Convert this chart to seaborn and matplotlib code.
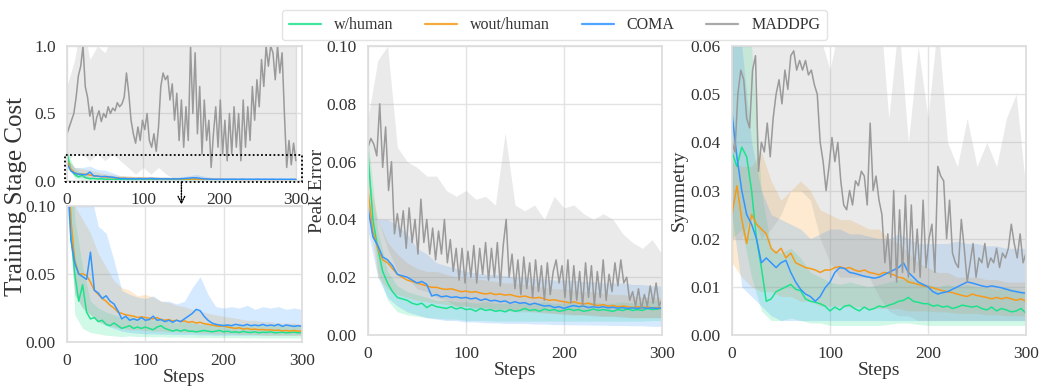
import numpy as np
import matplotlib
matplotlib.use('Agg')
import matplotlib.pyplot as plt
import seaborn as sns
from matplotlib.patches import Rectangle
from matplotlib.lines import Line2D

# ---------------- data ----------------
names = ['w/human', 'wout/human', 'COMA', 'MADDPG']
colors = ['#1de28c', '#f59a1b', '#3396ff', '#9a9a9a']

steps5 = np.arange(0, 301, 5)    # w/human, wout/human, COMA lines
steps3 = np.arange(0, 301, 3)    # MADDPG lines (more jagged)
steps10 = np.arange(0, 301, 10)  # shaded bands

# --- Training Stage Cost ---
cost_green = [0.21, 0.08, 0.05, 0.03, 0.042, 0.022, 0.017, 0.018, 0.015, 0.016,
              0.013, 0.012, 0.014, 0.012, 0.010, 0.011, 0.012, 0.010, 0.011, 0.010,
              0.011, 0.010, 0.009, 0.011, 0.012, 0.010, 0.009, 0.008, 0.009, 0.008,
              0.009, 0.008, 0.008, 0.0075, 0.008, 0.0085, 0.008, 0.0075, 0.008, 0.0085,
              0.0075, 0.008, 0.0072, 0.0075, 0.007, 0.0078, 0.0072, 0.007, 0.0075, 0.0068,
              0.0072, 0.007, 0.0075, 0.0068, 0.007, 0.0072, 0.0068, 0.007, 0.0072, 0.0068,
              0.007]
cost_orange = [0.15, 0.09, 0.06, 0.05, 0.05, 0.049, 0.044, 0.038, 0.035, 0.032,
               0.030, 0.027, 0.025, 0.022, 0.021, 0.020, 0.0195, 0.019, 0.018, 0.0185,
               0.018, 0.0175, 0.017, 0.018, 0.0165, 0.016, 0.0165, 0.0155, 0.016, 0.015,
               0.0155, 0.0145, 0.015, 0.014, 0.0145, 0.0135, 0.013, 0.0125, 0.012, 0.0115,
               0.012, 0.011, 0.0105, 0.010, 0.0105, 0.0095, 0.010, 0.0092, 0.0095, 0.009,
               0.0092, 0.0088, 0.009, 0.0085, 0.0088, 0.0082, 0.0085, 0.008, 0.0085, 0.008,
               0.0082]
cost_blue = [0.13, 0.075, 0.058, 0.05, 0.048, 0.046, 0.066, 0.038, 0.036, 0.032,
             0.034, 0.030, 0.028, 0.023, 0.017, 0.019, 0.016, 0.017, 0.016, 0.018,
             0.016, 0.0165, 0.019, 0.016, 0.0165, 0.015, 0.016, 0.0145, 0.016, 0.015,
             0.017, 0.019, 0.021, 0.024, 0.023, 0.019, 0.016, 0.014, 0.013, 0.0125,
             0.012, 0.0125, 0.012, 0.013, 0.0125, 0.012, 0.013, 0.012, 0.0125, 0.012,
             0.013, 0.012, 0.0125, 0.012, 0.013, 0.0115, 0.0125, 0.012, 0.0115, 0.012,
             0.0115]
cost_maddpg = [0.35, 0.40, 0.45, 0.50, 0.62, 0.78, 0.85, 1.00, 0.70, 0.62,
               0.48, 0.55, 0.38, 0.47, 0.52, 0.44, 0.50, 0.47, 0.55, 0.50,
               0.54, 0.52, 0.58, 0.55, 0.57, 0.62, 0.80, 0.65, 0.45, 0.35,
               0.28, 0.40, 0.30, 0.45, 0.38, 0.50, 0.30, 0.25, 0.35, 0.22,
               0.40, 0.70, 0.80, 0.75, 0.78, 0.60, 0.72, 0.45, 0.65, 0.30,
               0.60, 0.25, 0.55, 0.30, 1.00, 0.50, 0.95, 0.35, 0.70, 0.20,
               0.60, 0.30, 0.45, 0.10, 0.35, 0.55, 0.25, 0.60, 0.20, 0.45,
               0.15, 0.50, 0.20, 0.55, 0.25, 0.50, 0.15, 0.60, 0.25, 0.55,
               0.30, 0.70, 0.45, 0.75, 0.55, 0.90, 0.70, 1.00, 0.85, 1.00,
               0.95, 0.75, 1.00, 0.80, 0.95, 0.50, 0.10, 0.30, 0.12, 0.28,
               0.15]

cost_green_lo = [0.15, 0.02, 0.01, 0.007, 0.006, 0.005, 0.0045, 0.004, 0.0045, 0.004,
                 0.004, 0.0038, 0.004, 0.0035, 0.0038, 0.0035, 0.0035, 0.0033, 0.0035, 0.0033,
                 0.0033, 0.0032, 0.0032, 0.003, 0.0032, 0.003, 0.003, 0.003, 0.003, 0.003,
                 0.003]
cost_green_hi = [0.22, 0.09, 0.055, 0.03, 0.025, 0.022, 0.02, 0.018, 0.019, 0.017,
                 0.018, 0.016, 0.018, 0.015, 0.014, 0.015, 0.014, 0.013, 0.014, 0.013,
                 0.014, 0.013, 0.012, 0.013, 0.012, 0.013, 0.012, 0.013, 0.012, 0.013,
                 0.012]
cost_orange_lo = [0.11, 0.035, 0.025, 0.02, 0.015, 0.013, 0.011, 0.01, 0.009, 0.009,
                  0.0085, 0.008, 0.008, 0.0075, 0.0075, 0.007, 0.007, 0.0065, 0.0065, 0.006,
                  0.006, 0.006, 0.0055, 0.0055, 0.0055, 0.005, 0.005, 0.005, 0.005, 0.005,
                  0.005]
cost_orange_hi = [0.18, 0.10, 0.09, 0.08, 0.065, 0.055, 0.045, 0.04, 0.038, 0.034,
                  0.035, 0.033, 0.03, 0.029, 0.027, 0.026, 0.024, 0.023, 0.021, 0.02,
                  0.019, 0.018, 0.017, 0.016, 0.016, 0.015, 0.015, 0.014, 0.014, 0.014,
                  0.013]
cost_blue_lo = [0.10, 0.035, 0.025, 0.02, 0.015, 0.012, 0.01, 0.008, 0.007, 0.0065,
                0.006, 0.006, 0.0058, 0.0058, 0.0055, 0.0055, 0.0055, 0.0052, 0.0052, 0.005,
                0.005, 0.005, 0.005, 0.005, 0.005, 0.005, 0.005, 0.005, 0.005, 0.005,
                0.005]
cost_blue_hi = [0.16, 0.10, 0.10, 0.11, 0.085, 0.08, 0.06, 0.038, 0.035, 0.033,
                0.032, 0.034, 0.03, 0.03, 0.028, 0.03, 0.04, 0.048, 0.035, 0.026,
                0.025, 0.026, 0.025, 0.027, 0.024, 0.026, 0.025, 0.026, 0.024, 0.025,
                0.024]
cost_maddpg_lo = [0.15, 0.20, 0.20, 0.15, 0.20, 0.15, 0.20, 0.15, 0.10, 0.05,
                  0.10, 0.05, 0.10, 0.05, 0.02, 0.0, 0.0, 0.0, 0.0, 0.0,
                  0.0, 0.0, 0.0, 0.0, 0.0, 0.0, 0.0, 0.0, 0.0, 0.0,
                  0.0]
cost_maddpg_hi = [0.70, 0.90, 1.20, 0.90, 1.00, 0.95, 1.10, 1.20, 1.20, 1.20,
                  1.20, 1.20, 1.20, 1.20, 1.20, 1.20, 1.20, 1.20, 1.20, 1.20,
                  1.20, 1.20, 1.20, 1.20, 1.20, 1.20, 1.20, 1.20, 1.20, 1.20,
                  1.20]

# --- Peak Error ---
peak_green = [0.063, 0.040, 0.030, 0.022, 0.018, 0.015, 0.013, 0.0125, 0.012, 0.011,
              0.0105, 0.011, 0.0095, 0.0105, 0.0098, 0.0095, 0.0092, 0.0098, 0.009, 0.0095,
              0.0088, 0.009, 0.0082, 0.0092, 0.0085, 0.0088, 0.0082, 0.0085, 0.008, 0.0088,
              0.0082, 0.0085, 0.0092, 0.0085, 0.0088, 0.0082, 0.009, 0.0085, 0.0088, 0.0082,
              0.0085, 0.009, 0.0085, 0.0088, 0.0082, 0.0085, 0.009, 0.0085, 0.0088, 0.0085,
              0.0082, 0.0088, 0.0085, 0.009, 0.0085, 0.0088, 0.0085, 0.0092, 0.0088, 0.009,
              0.0092]
peak_orange = [0.050, 0.036, 0.030, 0.026, 0.025, 0.023, 0.021, 0.020, 0.019, 0.0185,
               0.018, 0.0175, 0.017, 0.0165, 0.0165, 0.016, 0.0158, 0.016, 0.0155, 0.015,
               0.0152, 0.0148, 0.015, 0.0145, 0.0142, 0.0145, 0.014, 0.0142, 0.0138, 0.014,
               0.0135, 0.0132, 0.0135, 0.013, 0.0128, 0.013, 0.0125, 0.012, 0.0122, 0.0118,
               0.0115, 0.0112, 0.0115, 0.011, 0.0108, 0.011, 0.0105, 0.0102, 0.0105, 0.010,
               0.0102, 0.0098, 0.010, 0.0098, 0.0095, 0.0098, 0.0095, 0.0097, 0.0094, 0.0095,
               0.0092]
peak_blue = [0.044, 0.034, 0.031, 0.027, 0.026, 0.024, 0.021, 0.0205, 0.020, 0.019,
             0.018, 0.0185, 0.0175, 0.0135, 0.014, 0.0132, 0.0135, 0.013, 0.0132, 0.0128,
             0.013, 0.0125, 0.0128, 0.012, 0.0125, 0.0118, 0.012, 0.0115, 0.0118, 0.011,
             0.0115, 0.011, 0.0112, 0.0105, 0.011, 0.0105, 0.010, 0.0102, 0.0095, 0.0098,
             0.0092, 0.0098, 0.0102, 0.0098, 0.010, 0.0095, 0.0098, 0.0095, 0.0098, 0.0094,
             0.0096, 0.0093, 0.0095, 0.0092, 0.0094, 0.0092, 0.0095, 0.0092, 0.0094, 0.0092,
             0.0094]
peak_maddpg = [0.065, 0.068, 0.066, 0.062, 0.080, 0.058, 0.072, 0.050, 0.060, 0.035,
               0.042, 0.034, 0.043, 0.030, 0.044, 0.032, 0.040, 0.028, 0.047, 0.032,
               0.040, 0.028, 0.037, 0.026, 0.036, 0.028, 0.040, 0.025, 0.033, 0.022,
               0.030, 0.019, 0.030, 0.018, 0.029, 0.020, 0.031, 0.018, 0.030, 0.021,
               0.032, 0.019, 0.030, 0.020, 0.032, 0.017, 0.031, 0.040, 0.020, 0.028,
               0.016, 0.026, 0.014, 0.027, 0.016, 0.025, 0.013, 0.026, 0.015, 0.024,
               0.012, 0.025, 0.014, 0.022, 0.026, 0.018, 0.024, 0.013, 0.026, 0.011,
               0.024, 0.012, 0.022, 0.010, 0.025, 0.013, 0.024, 0.010, 0.022, 0.013,
               0.026, 0.012, 0.021, 0.015, 0.025, 0.017, 0.026, 0.018, 0.020, 0.012,
               0.015, 0.010, 0.016, 0.009, 0.014, 0.010, 0.017, 0.011, 0.018, 0.010,
               0.012]

peak_green_lo = [0.055, 0.022, 0.012, 0.008, 0.007, 0.0065, 0.006, 0.0058, 0.0055, 0.0055,
                 0.005, 0.005, 0.005, 0.0048, 0.0048, 0.0048, 0.0048, 0.0048, 0.0048, 0.0048,
                 0.0048, 0.0048, 0.0048, 0.0048, 0.0048, 0.0048, 0.0048, 0.0048, 0.0048, 0.005,
                 0.005]
peak_green_hi = [0.068, 0.036, 0.022, 0.017, 0.015, 0.014, 0.013, 0.012, 0.012, 0.0115,
                 0.0115, 0.011, 0.0115, 0.011, 0.011, 0.011, 0.0115, 0.011, 0.0115, 0.011,
                 0.011, 0.0115, 0.011, 0.0115, 0.011, 0.011, 0.0115, 0.011, 0.0115, 0.012,
                 0.012]
peak_orange_lo = [0.044, 0.020, 0.016, 0.014, 0.013, 0.012, 0.0115, 0.011, 0.0105, 0.010,
                  0.010, 0.0095, 0.0095, 0.009, 0.009, 0.0085, 0.0085, 0.008, 0.008, 0.0075,
                  0.0075, 0.007, 0.007, 0.007, 0.0065, 0.0065, 0.0065, 0.006, 0.006, 0.006,
                  0.006]
peak_orange_hi = [0.056, 0.040, 0.032, 0.028, 0.025, 0.023, 0.022, 0.022, 0.021, 0.020,
                  0.020, 0.0195, 0.019, 0.0185, 0.018, 0.018, 0.0175, 0.017, 0.0165, 0.016,
                  0.016, 0.0155, 0.015, 0.015, 0.0145, 0.014, 0.014, 0.0135, 0.013, 0.013,
                  0.013]
peak_blue_lo = [0.036, 0.020, 0.013, 0.010, 0.008, 0.007, 0.006, 0.0055, 0.005, 0.005,
                0.0045, 0.0045, 0.0042, 0.0042, 0.004, 0.004, 0.004, 0.0038, 0.0038, 0.0036,
                0.0036, 0.0035, 0.0035, 0.0034, 0.0034, 0.0033, 0.0033, 0.0032, 0.0032, 0.003,
                0.003]
peak_blue_hi = [0.050, 0.040, 0.040, 0.038, 0.035, 0.030, 0.028, 0.025, 0.024, 0.023,
                0.022, 0.0215, 0.021, 0.021, 0.0205, 0.020, 0.020, 0.0195, 0.0195, 0.019,
                0.019, 0.019, 0.0185, 0.0185, 0.018, 0.018, 0.018, 0.0175, 0.0175, 0.017,
                0.017]
peak_maddpg_lo = [0.050, 0.040, 0.030, 0.022, 0.020, 0.016, 0.015, 0.013, 0.012, 0.010,
                  0.010, 0.009, 0.009, 0.0085, 0.0085, 0.008, 0.008, 0.008, 0.0075, 0.0075,
                  0.007, 0.007, 0.007, 0.0065, 0.0065, 0.0065, 0.006, 0.006, 0.006, 0.006,
                  0.006]
peak_maddpg_hi = [0.075, 0.095, 0.100, 0.065, 0.060, 0.058, 0.055, 0.055, 0.050, 0.048,
                  0.050, 0.047, 0.048, 0.045, 0.070, 0.045, 0.043, 0.045, 0.040, 0.048,
                  0.044, 0.045, 0.042, 0.040, 0.042, 0.040, 0.035, 0.032, 0.030, 0.033,
                  0.028]

# --- Symmetry ---
sym_green = [0.038, 0.035, 0.039, 0.037, 0.030, 0.020, 0.014, 0.007, 0.0075, 0.009,
             0.0095, 0.010, 0.0105, 0.0095, 0.0092, 0.0075, 0.007, 0.0068, 0.0065, 0.006,
             0.005, 0.0058, 0.0052, 0.006, 0.0062, 0.0055, 0.005, 0.0058, 0.0052, 0.0055,
             0.006, 0.0058, 0.0062, 0.0065, 0.007, 0.0072, 0.0078, 0.007, 0.0068, 0.0065,
             0.0065, 0.006, 0.0062, 0.0058, 0.006, 0.0055, 0.0058, 0.0062, 0.006, 0.0058,
             0.006, 0.0055, 0.0052, 0.0058, 0.005, 0.0055, 0.0052, 0.0048, 0.005, 0.0055,
             0.0045]
sym_orange = [0.025, 0.031, 0.024, 0.019, 0.025, 0.023, 0.022, 0.021, 0.018, 0.017,
              0.018, 0.016, 0.017, 0.015, 0.0145, 0.014, 0.0138, 0.0135, 0.013, 0.0135,
              0.0135, 0.014, 0.0142, 0.0138, 0.014, 0.0135, 0.0132, 0.0135, 0.013, 0.0128,
              0.0125, 0.013, 0.0128, 0.0125, 0.012, 0.0118, 0.011, 0.0108, 0.0105, 0.0102,
              0.010, 0.0098, 0.0095, 0.0092, 0.009, 0.0088, 0.0085, 0.0082, 0.008, 0.0085,
              0.0082, 0.008, 0.0078, 0.0075, 0.0078, 0.0075, 0.0078, 0.0075, 0.0072, 0.0075,
              0.007]
sym_blue = [0.046, 0.037, 0.030, 0.025, 0.023, 0.020, 0.015, 0.016, 0.015, 0.014,
            0.015, 0.0155, 0.013, 0.011, 0.0095, 0.0085, 0.008, 0.007, 0.008, 0.0098,
            0.011, 0.013, 0.014, 0.0138, 0.013, 0.0128, 0.0125, 0.0122, 0.012, 0.0118,
            0.012, 0.0125, 0.013, 0.0135, 0.014, 0.015, 0.013, 0.012, 0.011, 0.0105,
            0.010, 0.009, 0.0085, 0.0088, 0.009, 0.0095, 0.010, 0.0105, 0.011, 0.0108,
            0.0105, 0.0102, 0.010, 0.0102, 0.010, 0.0098, 0.0095, 0.0092, 0.009, 0.0088,
            0.0087]
sym_maddpg = [0.040, 0.038, 0.050, 0.055, 0.053, 0.045, 0.043, 0.055, 0.058, 0.034,
              0.040, 0.038, 0.044, 0.037, 0.045, 0.050, 0.053, 0.048, 0.055, 0.051,
              0.058, 0.059, 0.055, 0.057, 0.055, 0.057, 0.054, 0.055, 0.052, 0.050,
              0.040, 0.036, 0.030, 0.035, 0.041, 0.036, 0.040, 0.032, 0.027, 0.026,
              0.030, 0.027, 0.032, 0.031, 0.034, 0.033, 0.027, 0.044, 0.030, 0.033,
              0.028, 0.025, 0.015, 0.021, 0.012, 0.030, 0.011, 0.026, 0.013, 0.029,
              0.012, 0.027, 0.013, 0.022, 0.012, 0.028, 0.014, 0.020, 0.023, 0.013,
              0.035, 0.033, 0.032, 0.020, 0.028, 0.017, 0.015, 0.014, 0.024, 0.018,
              0.011, 0.015, 0.019, 0.012, 0.016, 0.015, 0.019, 0.014, 0.016, 0.015,
              0.018, 0.014, 0.017, 0.016, 0.018, 0.023, 0.019, 0.016, 0.021, 0.015,
              0.017]

sym_green_lo = [0.020, 0.022, 0.012, 0.005, 0.003, 0.003, 0.0035, 0.003, 0.0025, 0.0025,
                0.002, 0.002, 0.002, 0.002, 0.002, 0.002, 0.0022, 0.0025, 0.0025, 0.0022,
                0.002, 0.002, 0.002, 0.002, 0.002, 0.002, 0.002, 0.002, 0.002, 0.002,
                0.002]
sym_green_hi = [0.065, 0.065, 0.060, 0.030, 0.018, 0.017, 0.018, 0.016, 0.013, 0.012,
                0.011, 0.0105, 0.011, 0.0105, 0.010, 0.0105, 0.011, 0.0115, 0.012, 0.011,
                0.0105, 0.010, 0.0105, 0.010, 0.0105, 0.010, 0.0098, 0.0095, 0.0098, 0.0095,
                0.009]
sym_orange_lo = [0.015, 0.012, 0.010, 0.009, 0.009, 0.008, 0.008, 0.007, 0.007, 0.006,
                 0.006, 0.006, 0.0058, 0.0058, 0.0055, 0.0055, 0.0055, 0.0055, 0.005, 0.005,
                 0.005, 0.0048, 0.0048, 0.0045, 0.0045, 0.0045, 0.0042, 0.0042, 0.004, 0.004,
                 0.004]
sym_orange_hi = [0.036, 0.035, 0.035, 0.038, 0.032, 0.028, 0.030, 0.032, 0.030, 0.026,
                 0.025, 0.024, 0.024, 0.023, 0.022, 0.022, 0.020, 0.019, 0.017, 0.015,
                 0.014, 0.013, 0.013, 0.012, 0.012, 0.012, 0.0115, 0.0115, 0.011, 0.011,
                 0.011]
sym_blue_lo = [0.025, 0.010, 0.008, 0.006, 0.004, 0.003, 0.003, 0.003, 0.003, 0.003,
               0.003, 0.003, 0.003, 0.003, 0.003, 0.003, 0.003, 0.003, 0.003, 0.003,
               0.003, 0.003, 0.003, 0.003, 0.003, 0.003, 0.003, 0.003, 0.003, 0.003,
               0.003]
sym_blue_hi = [0.065, 0.060, 0.040, 0.030, 0.025, 0.024, 0.023, 0.022, 0.020, 0.021,
               0.022, 0.022, 0.021, 0.021, 0.0205, 0.020, 0.020, 0.021, 0.020, 0.019,
               0.019, 0.019, 0.019, 0.0195, 0.019, 0.019, 0.0185, 0.0185, 0.018, 0.018,
               0.018]
sym_maddpg_lo = [0.020, 0.020, 0.025, 0.020, 0.022, 0.025, 0.030, 0.030, 0.028, 0.020,
                 0.015, 0.012, 0.012, 0.012, 0.012, 0.008, 0.005, 0.004, 0.004, 0.003,
                 0.003, 0.003, 0.003, 0.003, 0.003, 0.003, 0.003, 0.003, 0.003, 0.003,
                 0.003]
sym_maddpg_hi = [0.070, 0.070, 0.070, 0.070, 0.070, 0.070, 0.070, 0.070, 0.070, 0.062,
                 0.055, 0.065, 0.070, 0.070, 0.070, 0.070, 0.045, 0.065, 0.040, 0.060,
                 0.045, 0.065, 0.040, 0.035, 0.045, 0.035, 0.040, 0.035, 0.045, 0.050,
                 0.030]

# ---------------- style ----------------
sns.set_theme(style='whitegrid')
plt.rcParams['font.family'] = ['Liberation Serif', 'DejaVu Serif']
plt.rcParams['axes.edgecolor'] = '#dddddd'
plt.rcParams['grid.color'] = '#e3e3e3'
plt.rcParams['text.color'] = '#333333'
plt.rcParams['xtick.color'] = '#333333'
plt.rcParams['ytick.color'] = '#333333'
plt.rcParams['axes.labelcolor'] = '#333333'

TICK = 12.5
LABEL = 14


def draw(ax, lines, bands, skip_maddpg=False):
    n = 3 if skip_maddpg else 4
    for c, (lo, hi) in zip(colors[:n], bands[:n]):
        ax.fill_between(steps10, lo, hi, color=c, alpha=0.2, lw=0)
    for name, c, y in zip(names[:n], colors[:n], lines[:n]):
        x = steps3 if name == 'MADDPG' else steps5
        sns.lineplot(x=x, y=y, color=c, lw=1.1, ax=ax, legend=False)
    ax.tick_params(labelsize=TICK, pad=2)
    ax.set_xticks([0, 100, 200, 300])


fig = plt.figure(figsize=(10.43, 3.9), dpi=100)

cost_lines = [cost_green, cost_orange, cost_blue, cost_maddpg]
cost_bands = [(cost_green_lo, cost_green_hi), (cost_orange_lo, cost_orange_hi),
              (cost_blue_lo, cost_blue_hi), (cost_maddpg_lo, cost_maddpg_hi)]

# left top: full range view
ax_top = fig.add_axes([0.0642, 0.536, 0.2253, 0.346])
draw(ax_top, cost_lines, cost_bands)
ax_top.set_xlim(0, 308)
ax_top.set_ylim(0, 1.0)
ax_top.set_yticks([0.0, 0.5, 1.0])
ax_top.set_yticklabels(['0.0', '0.5', '1.0'])
ax_top.set_xlabel('')
ax_top.add_patch(Rectangle((-2, -0.005), 310, 0.195, fill=False, ec='black',
                           ls=(0, (1, 1.3)), lw=1.3, clip_on=False, zorder=5))
ax_top.annotate('', xy=(150, -0.175), xytext=(150, -0.008),
                arrowprops=dict(arrowstyle='->', ls=(0, (1, 1)), color='black',
                                lw=1.0, shrinkA=0, shrinkB=0),
                annotation_clip=False)

# left bottom: zoomed view (MADDPG is off this scale)
ax_bot = fig.add_axes([0.0642, 0.123, 0.2253, 0.349])
draw(ax_bot, cost_lines, cost_bands, skip_maddpg=True)
ax_bot.set_xlim(0, 300)
ax_bot.set_ylim(0, 0.1)
ax_bot.set_yticks([0.0, 0.05, 0.10])
ax_bot.set_yticklabels(['0.00', '0.05', '0.10'])
ax_bot.set_xlabel('Steps', fontsize=LABEL, labelpad=0)

# middle: peak error
ax_mid = fig.add_axes([0.3528, 0.141, 0.2819, 0.741])
draw(ax_mid, [peak_green, peak_orange, peak_blue, peak_maddpg],
     [(peak_green_lo, peak_green_hi), (peak_orange_lo, peak_orange_hi),
      (peak_blue_lo, peak_blue_hi), (peak_maddpg_lo, peak_maddpg_hi)])
ax_mid.set_xlim(0, 300)
ax_mid.set_ylim(0, 0.1)
ax_mid.set_yticks([0.0, 0.02, 0.04, 0.06, 0.08, 0.10])
ax_mid.set_yticklabels(['0.00', '0.02', '0.04', '0.06', '0.08', '0.10'])
ax_mid.set_xlabel('Steps', fontsize=LABEL, labelpad=0)

# right: symmetry
ax_rt = fig.add_axes([0.7018, 0.141, 0.2819, 0.741])
draw(ax_rt, [sym_green, sym_orange, sym_blue, sym_maddpg],
     [(sym_green_lo, sym_green_hi), (sym_orange_lo, sym_orange_hi),
      (sym_blue_lo, sym_blue_hi), (sym_maddpg_lo, sym_maddpg_hi)])
ax_rt.set_xlim(0, 300)
ax_rt.set_ylim(0, 0.06)
ax_rt.set_yticks([0.0, 0.01, 0.02, 0.03, 0.04, 0.05, 0.06])
ax_rt.set_yticklabels(['0.00', '0.01', '0.02', '0.03', '0.04', '0.05', '0.06'])
ax_rt.set_xlabel('Steps', fontsize=LABEL, labelpad=0)

# y labels
fig.text(0.0155, 0.495, 'Training Stage Cost', rotation=90, ha='center',
         va='center', fontsize=18)
fig.text(0.3045, 0.5115, 'Peak Error', rotation=90, ha='center', va='center',
         fontsize=LABEL)
fig.text(0.651, 0.5115, 'Symmetry', rotation=90, ha='center', va='center',
         fontsize=LABEL)

# shared legend
handles = [Line2D([], [], color=c, lw=1.6, alpha=0.85) for c in colors]
leg = fig.legend(handles, names, loc='upper left', bbox_to_anchor=(0.2627, 0.995),
                 ncol=4, fontsize=11.5, frameon=True, handlelength=2.0,
                 handletextpad=0.8, columnspacing=2.0, borderpad=0.45)
leg.get_frame().set_edgecolor('#dddddd')

fig.savefig('out.png', dpi=100)
